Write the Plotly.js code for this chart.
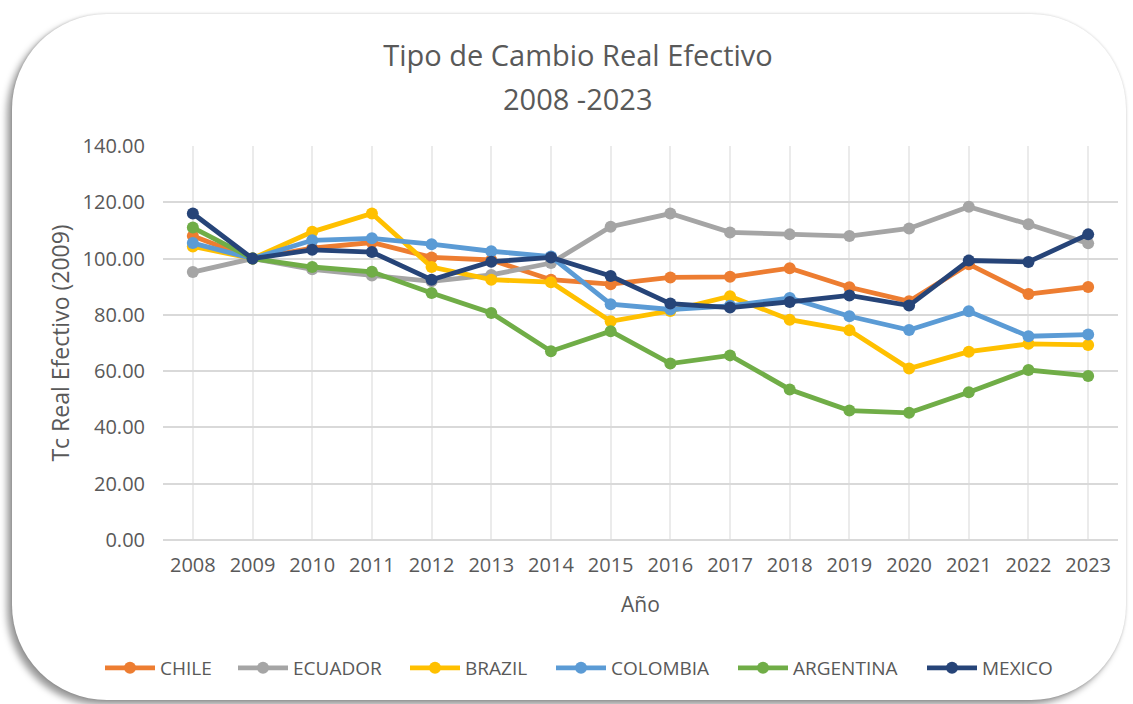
<!DOCTYPE html>
<html>
<head>
<meta charset="utf-8">
<script src="https://cdn.plot.ly/plotly-3.0.1.min.js"></script>
<style>
  html, body { margin: 0; padding: 0; background: #ffffff; width: 1133px; height: 704px; overflow: hidden; }
  #card { position: absolute; left: 12px; top: 14px; width: 1114px; height: 686px; background: #fff;
          border-radius: 95px; box-shadow: -5px 5px 7px rgba(0,0,0,0.40), 0 0 3px rgba(0,0,0,0.18); }
  #chart { position: absolute; left: 0; top: 0; width: 1133px; height: 704px; }
</style>
</head>
<body>
<div id="card"></div>
<div id="chart"></div>
<script>
const years = ['2008','2009','2010','2011','2012','2013','2014','2015','2016','2017','2018','2019','2020','2021','2022','2023'];
const chile     = [108.0, 100, 103.7, 105.7, 100.4, 99.5, 92.5, 90.9, 93.3, 93.5, 96.6, 89.8, 84.8, 98.0, 87.4, 89.9];
const ecuador   = [95.2, 100, 96.2, 94.0, 91.9, 94.2, 98.4, 111.3, 116.0, 109.3, 108.6, 108.0, 110.7, 118.4, 112.2, 105.4];
const brazil    = [104.3, 100, 109.5, 116.0, 97.0, 92.5, 91.6, 77.7, 81.4, 86.6, 78.3, 74.5, 60.9, 66.9, 69.7, 69.3];
const colombia  = [105.5, 100, 106.5, 107.2, 105.1, 102.6, 100.7, 83.8, 81.9, 83.2, 86.0, 79.5, 74.6, 81.3, 72.4, 73.0];
const argentina = [111.0, 100, 97.0, 95.3, 87.8, 80.7, 67.1, 74.2, 62.7, 65.6, 53.5, 46.0, 45.2, 52.5, 60.4, 58.3];
const mexico    = [116.0, 100, 103.1, 102.3, 92.5, 98.9, 100.4, 93.8, 84.0, 82.6, 84.6, 86.9, 83.3, 99.3, 98.8, 108.6];

const seriesNames  = ['CHILE','ECUADOR','BRAZIL','COLOMBIA','ARGENTINA','MEXICO'];
const seriesValues = [chile, ecuador, brazil, colombia, argentina, mexico];
const seriesColors = ['#ED7D31','#A5A5A5','#FFC000','#5B9BD5','#70AD47','#264478'];

const FONT = 'Open Sans, Noto Sans, sans-serif';
const GREY = '#595959';

// left edge (px) of each legend box
const legendLeft = [100, 233, 405, 551, 733, 922];
const legendIds = ['legend','legend2','legend3','legend4','legend5','legend6'];

const data = seriesNames.map((n, i) => ({
  type: 'scatter', mode: 'lines+markers', name: n,
  x: years, y: seriesValues[i],
  line: { color: seriesColors[i], width: 4.8 },
  marker: { color: seriesColors[i], size: 12 },
  legend: legendIds[i],
  hoverinfo: 'x+y+name'
}));

const layout = {
  width: 1133, height: 704,
  paper_bgcolor: 'rgba(0,0,0,0)', plot_bgcolor: 'rgba(0,0,0,0)',
  margin: { l: 163, r: 15, t: 146, b: 164 },
  showlegend: true,
  font: { family: FONT, color: GREY, size: 20 },
  title: { text: 'Tipo de Cambio Real Efectivo', font: { family: FONT, size: 29, color: GREY },
           x: 578/1133, xanchor: 'center', y: 1 - 56/704, yanchor: 'middle', xref: 'container', yref: 'container' },
  annotations: [{
    text: '2008 -2023', xref: 'paper', yref: 'paper',
    x: (578-163)/955, y: (540-98)/394, xanchor: 'center', yanchor: 'middle',
    showarrow: false, font: { family: FONT, size: 29, color: GREY }
  }],
  xaxis: {
    type: 'category', range: [-0.5, 15.5], fixedrange: true,
    showgrid: true, gridcolor: '#ebebeb', gridwidth: 1.5,
    showline: false, zeroline: false,
    ticks: '', ticklabelstandoff: 11,
    tickfont: { family: FONT, size: 20, color: GREY },
    title: { text: 'Año', font: { family: FONT, size: 21, color: GREY }, standoff: 20 }
  },
  yaxis: {
    range: [0, 140], dtick: 20, tickformat: '.2f', fixedrange: true,
    showgrid: true, gridcolor: '#d9d9d9', gridwidth: 1.5,
    zeroline: true, zerolinecolor: '#d9d9d9', zerolinewidth: 1.5,
    showline: false, ticks: '', ticklabelstandoff: 17,
    tickfont: { family: FONT, size: 20, color: GREY },
    title: { text: 'Tc Real Efectivo (2009)', font: { family: FONT, size: 23, color: GREY }, standoff: 6 }
  }
};

legendIds.forEach((id, i) => {
  layout[id] = {
    orientation: 'h', xref: 'container', yref: 'container',
    x: legendLeft[i]/1133, xanchor: 'left', y: 1 - 668/704, yanchor: 'middle',
    itemwidth: 50, borderwidth: 0,
    font: { family: FONT, size: 19, color: GREY }, bgcolor: 'rgba(0,0,0,0)'
  };
});

Plotly.newPlot('chart', data, layout, { displayModeBar: false, staticPlot: false });
</script>
</body>
</html>
